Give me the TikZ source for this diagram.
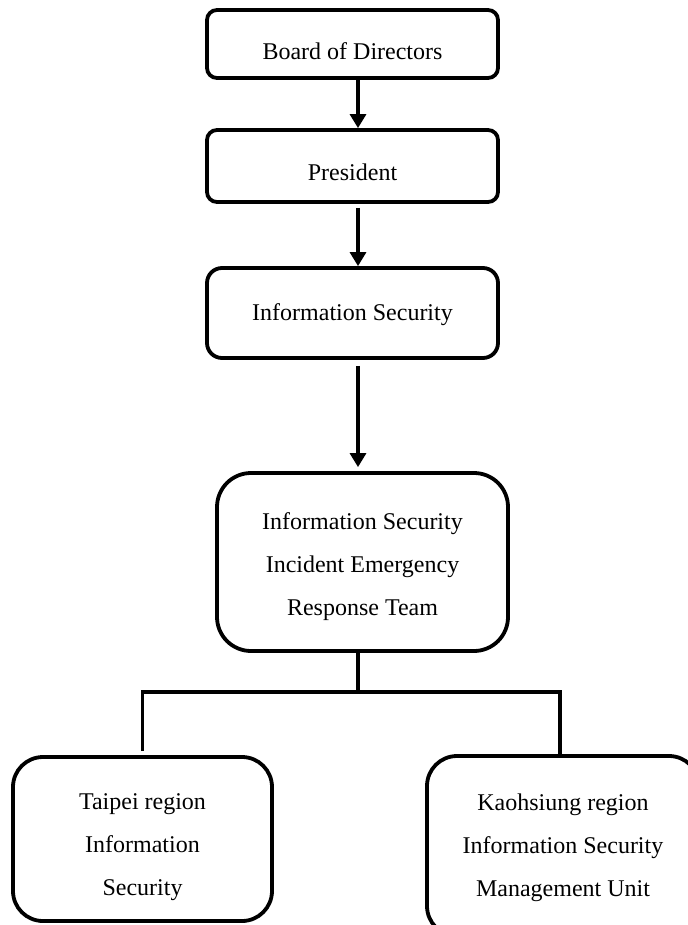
\documentclass[tikz,border=0pt]{standalone}
\usepackage{fontspec}
\setmainfont{Liberation Serif}
\usetikzlibrary{arrows.meta}
\newcommand\toppad[1]{\rule{0pt}{#1}}
\tikzset{
  box/.style={draw, line width=1.9pt, align=center, inner sep=2pt,
    font=\fontsize{12}{21.5}\selectfont},
  arr/.style={line width=1.6pt, -{Triangle[width=8pt,length=7pt]}},
  link/.style={line width=1.6pt}
}
\begin{document}
\begin{tikzpicture}[x=0.5pt, y=-0.5pt]
    \useasboundingbox (0,0) rectangle (688,925);
    \coordinate (spine) at (358,0);
    \coordinate (bus) at (0,692);
    % top chain
    \node [box, rounded corners=5pt, minimum width=145.5pt, minimum height=34pt,
      text height=16pt, text depth=0pt] (board) at (352.5,44) {Board of Directors};
    \node [box, rounded corners=5pt, minimum width=145.5pt, minimum height=36pt,
      text height=15pt, text depth=0pt] (pres) at (352.5,166) {President};
    \node [box, rounded corners=7.5pt, minimum width=145.5pt, minimum height=45pt,
      text height=7pt, text depth=0pt] (infosec) at (352.5,313) {Information Security};
    \node [box, rounded corners=17pt, minimum width=145.5pt, minimum height=89pt] (team) at (362.5,562)
      {\toppad{13.5pt}Information Security\\Incident Emergency\\Response Team};
    % regional units
    \node [box, rounded corners=15pt, minimum width=129.5pt, minimum height=82pt] (taipei) at (142.5,839)
      {\toppad{16.5pt}Taipei region\\Information\\Security};
    \node [box, rounded corners=15pt, minimum width=136pt, minimum height=90pt] (kaohsiung) at (563,846)
      {\toppad{10pt}Kaohsiung region\\Information Security\\Management Unit};
    \coordinate (kdrop) at ([xshift=-1.5pt]kaohsiung.north);
    \draw [arr] (board.south -| spine) -- (pres.north -| spine);
    \draw [arr, shorten <=2pt] (pres.south -| spine) -- (infosec.north -| spine);
    \draw [arr, shorten <=3pt, shorten >=2pt] (infosec.south -| spine) -- (team.north -| spine);
    \draw [link] (team.south -| spine) -- (spine |- bus);
    \draw [link, shorten <=2pt] (taipei.north) -- (taipei.north |- bus) -- (kdrop |- bus)
      -- (kdrop);
\end{tikzpicture}
\end{document}
